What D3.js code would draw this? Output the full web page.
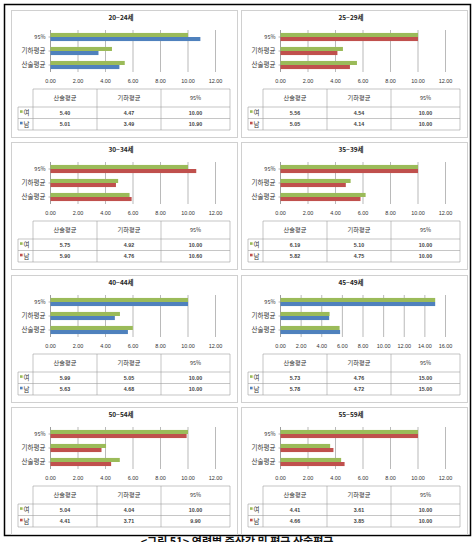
<!DOCTYPE html>
<html><head><meta charset="utf-8">
<script src="https://cdn.jsdelivr.net/npm/d3@7"></script>
<style>
html,body{margin:0;padding:0;background:#fff;}
svg{display:block;}
</style></head>
<body>
<svg id="chart" width="474" height="542"></svg>
<script>
const panelTitles = ["20~24세","25~29세","30~34세","35~39세","40~44세","45~49세","50~54세","55~59세"];
const categories = ["산술평균","기하평균","95%"];
const seriesNames = ["여","남"];
const femaleValues = [
  [5.40,4.47,10.00],[5.56,4.54,10.00],[5.75,4.92,10.00],[6.19,5.10,10.00],
  [5.99,5.05,10.00],[5.73,4.76,15.00],[5.04,4.04,10.00],[4.41,3.61,10.00]];
const maleValues = [
  [5.01,3.49,10.90],[5.05,4.14,10.00],[5.90,4.76,10.60],[5.82,4.75,10.00],
  [5.63,4.68,10.00],[5.78,4.72,15.00],[4.41,3.71,9.90],[4.66,3.85,10.00]];
const maleColorKeys = ["blue","red","red","red","blue","blue","red","red"];
const axisMax = [12,12,12,12,12,16,12,12];
const captionText = "<그림 51> 연령별 중산값 및 평균 산술평균";

const colors = {green:"#9BBB59", blue:"#4F81BD", red:"#C0504D"};
const svg = d3.select("#chart");
const KR = "'Noto Sans CJK KR','Noto Sans',sans-serif";
const NUM = "'Liberation Sans',Arial,sans-serif";

const colX = [11, 241];
const rowY = [10, 142, 275, 407];
const panelW = 226, panelH = 127;

// outer frame
svg.append("rect").attr("x",4.5).attr("y",4.5).attr("width",466).attr("height",531)
  .attr("fill","none").attr("stroke","#000").attr("stroke-width",1.5);

panelTitles.forEach((title, i) => {
  const px = colX[i % 2], py = rowY[Math.floor(i / 2)];
  const g = svg.append("g").attr("transform", `translate(${px},${py})`);
  g.append("rect").attr("x",0.5).attr("y",0.5).attr("width",panelW).attr("height",panelH)
    .attr("fill","#fff").attr("stroke","#d0d0d0").attr("stroke-width",1);

  const plotL = 39, plotR = 204, plotT = 20, plotB = 62;
  const x = d3.scaleLinear().domain([0, axisMax[i]]).range([plotL, plotR]);
  const y = d3.scaleBand().domain(categories.slice().reverse()).range([plotT, plotB]).paddingInner(0.42).paddingOuter(0.21);
  const ys = d3.scaleBand().domain(seriesNames).range([0, y.bandwidth()]);

  g.append("text").attr("x",110).attr("y",10).attr("text-anchor","middle")
    .attr("font-family",KR).attr("font-size",6.5).attr("font-weight","bold").attr("fill","#222").text(title);

  const ticks = d3.range(0, axisMax[i] + 0.001, 2);
  // gridlines
  g.append("g").selectAll("line").data(ticks).join("line")
    .attr("x1",d=>x(d)+0.5).attr("x2",d=>x(d)+0.5).attr("y1",plotT).attr("y2",plotB)
    .attr("stroke","#8c8c8c").attr("stroke-width",0.6);
  // x tick labels
  const xa = g.append("g").attr("transform",`translate(0,${plotB})`)
    .call(d3.axisBottom(x).tickValues(ticks).tickFormat(d3.format(".2f")).tickSize(0).tickPadding(7));
  xa.select(".domain").remove();
  xa.selectAll("text").attr("font-family",NUM).attr("font-size",5.5).attr("fill","#333");
  // y axis
  const ya = g.append("g").attr("transform",`translate(${plotL+0.5},0)`)
    .call(d3.axisLeft(y).tickSize(2).tickPadding(3));
  ya.select(".domain").attr("stroke","#8c8c8c").attr("stroke-width",0.6).attr("d",`M0,${plotT}V${plotB}`);
  ya.selectAll(".tick line").attr("stroke","#8c8c8c").attr("stroke-width",0.6);
  ya.selectAll("text").attr("font-family",KR).attr("font-size",d=>d==="95%"?5.5:6.5).attr("fill","#333");

  const rows = categories.map((c, k) => ({cat:c, f:femaleValues[i][k], m:maleValues[i][k]}));
  const sColor = [colors.green, colors[maleColorKeys[i]]];
  seriesNames.forEach((s, si) => {
    g.append("g").selectAll("rect").data(rows).join("rect")
      .attr("x", x(0)+0.5)
      .attr("y", d => y(d.cat) + ys(s))
      .attr("width", d => x(si === 0 ? d.f : d.m) - x(0))
      .attr("height", ys.bandwidth())
      .attr("fill", sColor[si]);
  });

  // data table
  const tT = 79, hH = 18, rH = 11.5;
  const legL = 7, cols = [22, 86, 150, 219];
  const tg = g.append("g").attr("stroke","#a0a0a0").attr("stroke-width",0.6).attr("fill","none");
  // header
  tg.append("path").attr("d",`M${cols[0]},${tT}H${cols[3]}M${legL},${tT+hH}H${cols[3]}M${legL},${tT+hH+rH}H${cols[3]}M${legL},${tT+hH+2*rH}H${cols[3]}`);
  tg.append("path").attr("d",`M${legL},${tT+hH}V${tT+hH+2*rH}`);
  cols.forEach(cx => tg.append("path").attr("d",`M${cx},${tT}V${tT+hH+2*rH}`));
  categories.forEach((c, k) => {
    g.append("text").attr("x",(cols[k]+cols[k+1])/2).attr("y",tT+hH/2+2.2).attr("text-anchor","middle")
      .attr("font-family",KR).attr("font-size",c==="95%"?5.5:6.2).attr("fill","#333").text(c);
  });
  seriesNames.forEach((s, si) => {
    const ry = tT + hH + si * rH;
    g.append("rect").attr("x",legL+2).attr("y",ry+rH/2-2.5).attr("width",2.6).attr("height",2.6).attr("fill",sColor[si]);
    g.append("text").attr("x",legL+5.5).attr("y",ry+rH/2+2.4).attr("font-family",KR).attr("font-size",6.5).attr("fill","#333").text(s);
    categories.forEach((c, k) => {
      const v = si === 0 ? femaleValues[i][k] : maleValues[i][k];
      g.append("text").attr("x",(cols[k]+cols[k+1])/2).attr("y",ry+rH/2+2).attr("text-anchor","middle")
        .attr("font-family",NUM).attr("font-size",5.3).attr("font-weight","bold").attr("fill","#444").text(d3.format(".2f")(v));
    });
  });
});

svg.append("text").attr("x",237).attr("y",546).attr("text-anchor","middle")
  .attr("font-family",KR).attr("font-size",11).attr("font-weight","bold").attr("fill","#111").text(captionText);
</script>
</body></html>
